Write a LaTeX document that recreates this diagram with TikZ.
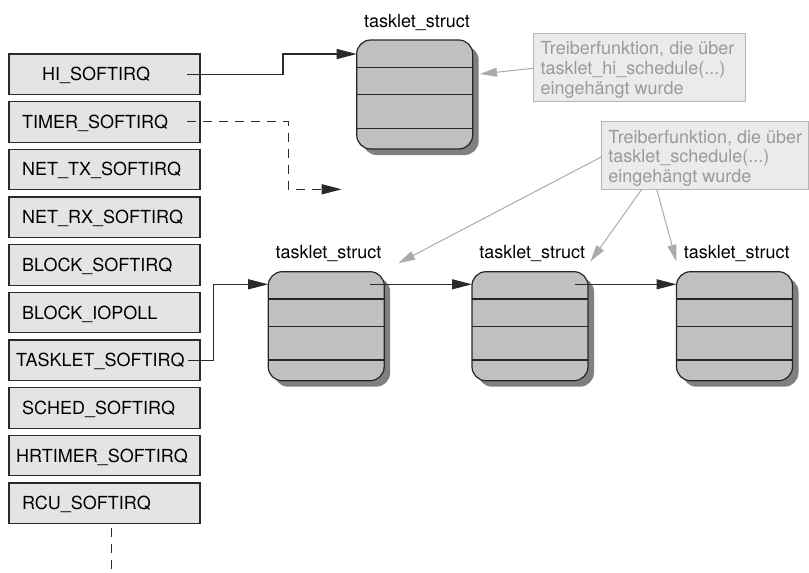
\documentclass[tikz,border=0pt]{standalone}
\usepackage{fontspec}
\setmainfont{TeX Gyre Heros}
\usetikzlibrary{arrows.meta,calc,shadows}
\definecolor{irqfill}{HTML}{E4E4E4}
\definecolor{structfill}{HTML}{C0C0C0}
\definecolor{structshadow}{HTML}{808080}
\definecolor{notefill}{HTML}{EBEBEB}
\definecolor{notedraw}{HTML}{B5B5B5}
\definecolor{notetext}{HTML}{9A9A9A}
\definecolor{noteline}{HTML}{ABABAB}
\definecolor{edge}{HTML}{2A2A2A}

\begin{document}
\begin{tikzpicture}[x=1pt,y=-1pt,
  lbl/.style={font=\fontsize{18}{19.7}\selectfont, inner sep=0pt},
  irq/.style={draw=edge, line width=1.2pt, fill=irqfill, minimum width=191pt,
    minimum height=40.5pt, inner sep=0pt, outer sep=0pt},
  irqtext/.style={lbl, anchor=base west},
  tstruct/.style={draw=black!85, line width=1.2pt, fill=structfill, rounded corners=14pt,
    minimum width=116pt, minimum height=109pt, inner sep=0pt, outer sep=0pt,
    drop shadow={shadow xshift=6pt, shadow yshift=-6pt, fill=structshadow, opacity=1}},
  divider/.style={draw=black!85, line width=1.1pt},
  note/.style={draw=notedraw, line width=1pt, fill=notefill, inner sep=0pt, outer sep=0pt},
  notetext/.style={lbl, text=notetext, align=left, anchor=north west},
  conn/.style={draw=edge, line width=1.1pt, -{Triangle[length=20pt,width=10pt]}},
  dashconn/.style={conn, dash pattern=on 9pt off 7pt},
  noteconn/.style={draw=noteline, line width=1pt, -{Triangle[length=17pt,width=9pt]}},
]
\useasboundingbox (0,0) rectangle (809,573);

% softirq vector
\foreach \n/\t/\tx [count=\i from 0] in {
    hi/HI\_SOFTIRQ/42,
    timer/TIMER\_SOFTIRQ/22,
    nettx/NET\_TX\_SOFTIRQ/22,
    netrx/NET\_RX\_SOFTIRQ/22,
    block/BLOCK\_SOFTIRQ/22,
    iopoll/BLOCK\_IOPOLL/22,
    tasklet/TASKLET\_SOFTIRQ/16,
    sched/SCHED\_SOFTIRQ/22,
    hrtimer/HRTIMER\_SOFTIRQ/16,
    rcu/RCU\_SOFTIRQ/22} {
  \node[irq] (\n) at (104.5, {74.25+47.67*\i}) {};
  \node[irqtext] (\n-t) at (\tx, {80.65+47.67*\i}) {\t};
}

% tasklet_struct instances
\node[tstruct] (s0) at (414.7,94.5) {};
\node[tstruct] (s1) at (326.2,326.2) {};
\node[tstruct] (s2) at (530,326.2) {};
\node[tstruct] (s3) at (734.5,326.2) {};
\foreach \s in {s0,s1,s2,s3} {
  \foreach \d in {27.3,54.7,88.3}
    \draw[divider] ($(\s.north west)+(0,\d)$) -- ($(\s.north east)+(0,\d)$);
  \node[lbl, anchor=base] (\s-l) at ($(\s.north)+(2.2,-13)$) {tasklet\_struct};
}

% driver annotations
\node[note, minimum width=211.7pt, minimum height=67.7pt] (na) at (639.2,67.2) {};
\node[notetext] (na-t) at ($(na.north west)+(7,8)$)
  {Treiberfunktion, die über\\tasklet\_hi\_schedule(...)\\eingehängt wurde};
\node[note, minimum width=206.6pt, minimum height=67.6pt] (nb) at (705,155.5) {};
\node[notetext] (nb-t) at ($(nb.north west)+(6.5,8)$)
  {Treiberfunktion, die über\\tasklet\_schedule(...)\\eingehängt wurde};

% free ends
\coordinate (tend) at (341.7,189.3);
\coordinate (more) at (111.7,573);

% list links
\draw[conn] ([xshift=-13pt]hi.east) -- ++(96,0) |- ([yshift=-14pt]s0.north west);
\draw[dashconn] ([xshift=-13pt]timer.east) -- ++(101.3,0) |- (tend);
\draw[conn] ([xshift=-12pt]tasklet.east) -- ++(25.3,0) |- ([yshift=-12.6pt]s1.north west);
\draw[conn] ([xshift=-14.3pt,yshift=-12.6pt]s1.north east) -- ([yshift=-12.6pt]s2.north west);
\draw[conn] ([xshift=-12.7pt,yshift=-12.6pt]s2.north east) -- ([yshift=-12.6pt]s3.north west);
\draw[draw=edge, line width=1.1pt, dash pattern=on 9pt off 7pt]
  ([xshift=7.2pt,yshift=-4.5pt]rcu.south) -- (more);

% annotation pointers
\draw[noteconn] ([yshift=-1.1pt]na.west) -- ([xshift=7.3pt,yshift=20.5pt]s0.east);
\draw[noteconn] ([yshift=-1.2pt]nb.west) -- ([xshift=14pt,yshift=8.4pt]s1.north east);
\draw[noteconn] ([xshift=40pt]nb.south west) -- ([xshift=2.3pt,yshift=10pt]s2.north east);
\draw[noteconn] ([xshift=55pt]nb.south west) -- ([yshift=10pt]s3.north west);
\end{tikzpicture}
\end{document}
